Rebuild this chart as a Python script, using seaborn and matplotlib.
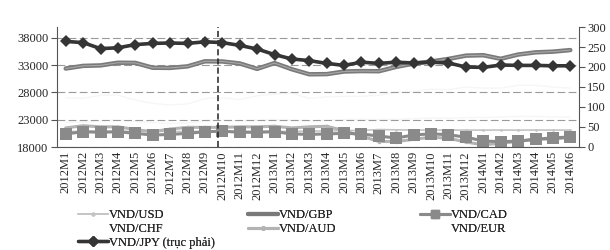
import matplotlib
matplotlib.use("Agg")
import matplotlib.pyplot as plt
from matplotlib.lines import Line2D
import numpy as np
import seaborn as sns

# month labels on the category axis
months = ["2012M1", "2012M2", "2012M3", "2012M4", "2012M5", "2012M6",
          "2012M7", "2012M8", "2012M9", "2012M10", "2012M11", "2012M12",
          "2013M1", "2013M2", "2013M3", "2013M4", "2013M5", "2013M6",
          "2013M7", "2013M8", "2013M9", "2013M10", "2013M11", "2013M12",
          "2014M1", "2014M2", "2014M3", "2014M4", "2014M5", "2014M6"]

# left axis series (VND per unit)
usd = [20830, 20860, 20850, 20870, 20880, 20880, 20850, 20850, 20850, 20850,
       20850, 20850, 20850, 20870, 20900, 20960, 21000, 21050, 21200, 21150,
       21100, 21100, 21100, 21100, 21100, 21100, 21100, 21110, 21100, 21100]
gbp = [32390, 32870, 32960, 33450, 33420, 32530, 32500, 32780, 33710, 33680,
       33320, 32320, 33390, 32250, 31330, 31360, 31840, 31920, 31890, 32690,
       33290, 33680, 34150, 34750, 34830, 34170, 34950, 35350, 35480, 35770]
cad = [20400, 20800, 20700, 20800, 20500, 20200, 20300, 20500, 20800, 20900,
       20700, 20700, 20800, 20400, 20300, 20400, 20500, 20400, 20000, 19650,
       20200, 20420, 20250, 19800, 19110, 18960, 19090, 19390, 19690, 19820]
aud = [21500, 21900, 21700, 21700, 21200, 20800, 21300, 21600, 21600, 21600,
       21700, 21700, 21800, 21500, 21700, 21800, 21000, 20000, 19000, 19000,
       19400, 19800, 19600, 18900, 18400, 18700, 19000, 19500, 19400, 19800]
chf = [22500, 22600, 22800, 22900, 22700, 22500, 22300, 22400, 22800, 22900,
       22800, 22900, 23000, 22900, 22800, 22900, 23000, 23100, 23000, 23100,
       23200, 23300, 23300, 23400, 23400, 23500, 23600, 23600, 23500, 23500]
eur = [27000, 26900, 27500, 27500, 26600, 26000, 25700, 25900, 26900, 27000,
       26700, 27400, 27700, 27900, 26900, 27200, 27300, 27300, 27500, 28000,
       28100, 28600, 28500, 29000, 28800, 28800, 29300, 29300, 29000, 28800]
# right axis series
jpy = [264, 261, 246, 248, 256, 259, 260, 259, 263, 261,
       254, 245, 231, 220, 216, 209, 204, 212, 209, 212,
       210, 212, 210, 200, 199, 205, 204, 204, 203, 203]

sns.set_style("white")
plt.rcParams['font.family'] = ['Liberation Serif', 'DejaVu Serif']

x = np.arange(len(months))

fig = plt.figure(figsize=(6.1, 2.5), dpi=100)
ax = fig.add_axes([57 / 610, 1 - 147 / 250, 522 / 610, 120 / 250])
ax2 = ax.twinx()

ax.yaxis.grid(True, color="#9a9a9a", linestyle=(0, (7, 3)), linewidth=0.8)
ax.set_axisbelow(True)

# CHF and EUR are almost invisible in the scanned original
sns.lineplot(x=x, y=eur, ax=ax, color="#f6f6f6", linewidth=1, zorder=0.4)
sns.lineplot(x=x, y=chf, ax=ax, color="#f6f6f6", linewidth=1, zorder=0.4)
sns.lineplot(x=x, y=usd, ax=ax, color="#c4c4c4", linewidth=1.2,
             marker="o", markersize=2, markeredgewidth=0)
sns.lineplot(x=x, y=aud, ax=ax, color="#b3b3b3", linewidth=2.2,
             marker="o", markersize=2.5, markeredgewidth=0)
sns.lineplot(x=x, y=cad, ax=ax, color="#8a8a8a", linewidth=2.2,
             marker="s", markersize=8, markeredgewidth=0)
sns.lineplot(x=x, y=gbp, ax=ax, color="#7a7a7a", linewidth=3.2)
sns.lineplot(x=x, y=gbp, ax=ax, color="#a8a8a8", linewidth=0.8)
sns.lineplot(x=x, y=jpy, ax=ax2, color="#353535", linewidth=2.6,
             marker="D", markersize=6.5, markeredgewidth=0)

ax.set_xlim(-0.5, len(months) - 0.5)
ax.set_ylim(18000, 40000)
ax.set_yticks([18000, 23000, 28000, 33000, 38000])
ax2.set_ylim(0, 300)
ax2.set_yticks(range(0, 301, 50))

ax.set_xticks(x)
ax.set_xticklabels(months, rotation=90, fontsize=9)
ax.set_xticks(np.arange(-0.5, len(months), 1), minor=True)
ax.tick_params(axis="x", which="major", length=0, pad=3)
ax.tick_params(axis="x", which="minor", length=3, color="#555555", direction="out")
ax.tick_params(axis="y", labelsize=9, length=4, color="#555555", direction="out", pad=2)
ax2.tick_params(axis="y", labelsize=9, length=4, color="#555555", direction="out", pad=2)

for a in (ax, ax2):
    a.set_xlabel("")
    a.set_ylabel("")
    a.spines["top"].set_visible(False)
for s in ("left", "bottom"):
    ax.spines[s].set_color("#555555")
    ax.spines[s].set_linewidth(0.8)
ax.spines["right"].set_visible(False)
ax2.spines["left"].set_visible(False)
ax2.spines["bottom"].set_visible(False)
ax2.spines["right"].set_color("#555555")
ax2.spines["right"].set_linewidth(0.8)

# dashed marker line near 2012M10
ax.axvline(8.75, ymin=0, ymax=1, color="#222222", linestyle=(0, (4, 2)), linewidth=1.1)

# legend in three fixed-width columns like the original
h_usd = Line2D([], [], color="#c4c4c4", linewidth=1.2, marker="o", markersize=2)
h_chf = Line2D([], [], color="white", linewidth=1)
h_jpy = Line2D([], [], color="#353535", linewidth=2.4, marker="D", markersize=5)
h_gbp = Line2D([], [], color="#7a7a7a", linewidth=3)
h_aud = Line2D([], [], color="#b3b3b3", linewidth=2.2, marker="o", markersize=2.5)
h_cad = Line2D([], [], color="#8a8a8a", linewidth=2.2, marker="s", markersize=6)
h_eur = Line2D([], [], color="white", linewidth=1)

columns = [
    ([h_usd, h_chf, h_jpy], ["VND/USD", "VND/CHF", "VND/JPY (trục phải)"], 78),
    ([h_gbp, h_aud], ["VND/GBP", "VND/AUD"], 248),
    ([h_cad, h_eur], ["VND/CAD", "VND/EUR"], 420),
]
for handles, labels, xpos in columns:
    leg = fig.legend(handles, labels, loc="upper left",
                     bbox_to_anchor=(xpos / 610, 1 - 209 / 250),
                     frameon=False, fontsize=9, handlelength=2.4,
                     handletextpad=0.1, labelspacing=0.15,
                     borderpad=0, borderaxespad=0)
    fig.add_artist(leg)

fig.savefig("out.png", dpi=100)
plt.close(fig)
